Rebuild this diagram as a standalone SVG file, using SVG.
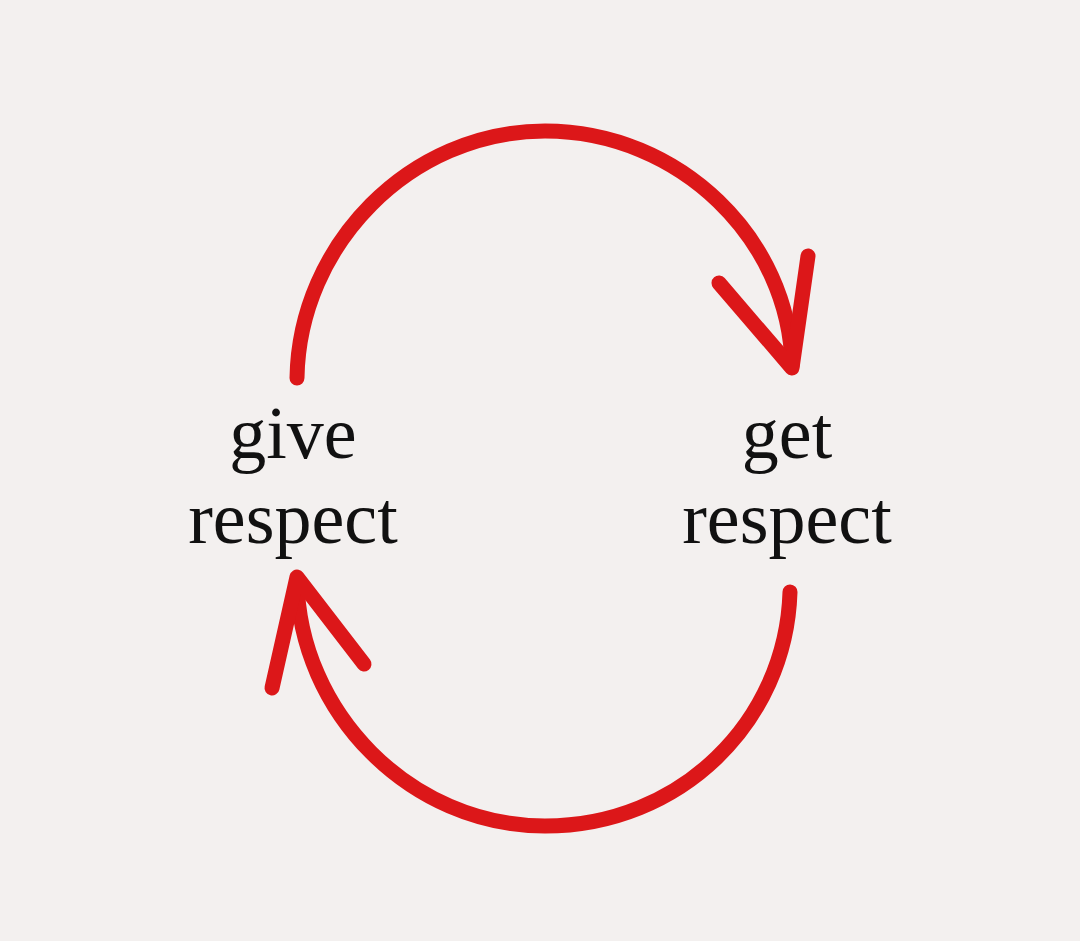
<svg xmlns="http://www.w3.org/2000/svg" width="1080" height="941" viewBox="0 0 1080 941">
<style>
.arc{fill:none;stroke:#dc1719;stroke-width:15;stroke-linecap:round;stroke-linejoin:round}
.lbl{font-family:"Liberation Serif","DejaVu Serif",serif;font-size:74px;fill:#111;text-anchor:middle}
</style>
<rect width="1080" height="941" fill="#f3f0ef"/>
<g id="connectors">
<path class="arc" d="M297,378 C299,245 410,131 545,131 C680,131 790,240 792,366"/>
<polyline class="arc" points="719,283 792,368 808,256"/>
<path class="arc" d="M790,592 C786,722 680,826 545,826 C410,826 299,712 297,580"/>
<polyline class="arc" points="272,688 297,577 364,664"/>
</g>
<g id="give-respect">
<text class="lbl" x="293" y="458">give</text>
<text class="lbl" x="293" y="543">respect</text>
</g>
<g id="get-respect">
<text class="lbl" x="787" y="458">get</text>
<text class="lbl" x="787" y="543">respect</text>
</g>
</svg>
